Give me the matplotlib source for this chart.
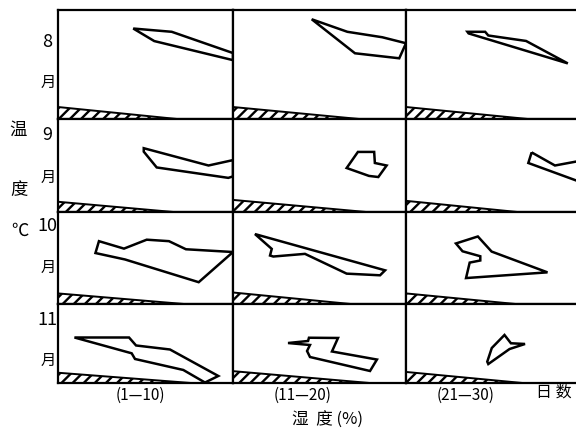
import matplotlib
matplotlib.use("Agg")
import matplotlib.pyplot as plt
from matplotlib.patches import Polygon

plt.rcParams['font.family'] = ['Noto Sans CJK SC', 'DejaVu Sans']
plt.rcParams['hatch.linewidth'] = 1.7

# ---- data (panel units 0-100) ----
months = ['8', '9', '10', '11']
periods = ['(1—10)', '(11—20)', '(21—30)']

aug_p1_x = [43, 65, 100, 100, 55]
aug_p1_y = [83, 80, 60.5, 54, 71.5]
aug_p2_x = [45.5, 66.1, 86.3, 100, 96.1, 70.5]
aug_p2_y = [91.5, 80, 75, 69.5, 55.7, 60.3]
aug_p3_x = [35.3, 45.5, 47.3, 69, 93, 36]
aug_p3_y = [80, 80, 76.6, 71.6, 51, 78.5]

sep_p1_x = [49, 86, 100, 100, 97.3, 56.4, 49]
sep_p1_y = [68.6, 50, 55.8, 38.3, 36.7, 47.9, 64.9]
sep_p2_x = [72.2, 81.6, 82, 88.8, 84, 78.6, 65.7]
sep_p2_y = [64.6, 64.6, 52.7, 50, 37.6, 38.8, 47.3]
sep_p3_x = [72.2, 85.6, 100, 100, 70.3]
sep_p3_y = [64.1, 50, 55, 32.4, 52.7]

oct_p1_x = [23.4, 37.7, 50.7, 63.4, 73.1, 100, 80.4, 38.3, 21.4]
oct_p1_y = [68.3, 60.2, 69.9, 68.3, 59.5, 56.5, 23.7, 48.4, 55.4]
oct_p2_x = [12.7, 87.9, 85, 65.7, 41.6, 23.3, 21.4, 22.4]
oct_p2_y = [76, 36.6, 31.2, 33, 54.5, 51.6, 52.7, 59.9]
oct_p3_x = [28.7, 41.3, 49.2, 81.3, 34.5, 36.6, 42.7, 42.7, 32.5]
oct_p3_y = [65.8, 73.4, 57, 34.4, 28.2, 45, 47.3, 51.9, 57.3]

nov_p1_x = [9.4, 40.6, 44.6, 64, 91.6, 84, 71.6, 44, 42.1]
nov_p1_y = [57.6, 57.6, 47.5, 42.4, 8.9, 0.6, 16.5, 30.4, 37.6]
nov_p2_x = [31.8, 43.4, 43.9, 60.7, 57.2, 83.2, 79.2, 44.5, 42.8, 44.5]
nov_p2_y = [50.6, 53.2, 57.3, 57, 39.9, 29.7, 15.2, 32.9, 40.5, 48.1]
nov_p3_x = [56.6, 60.3, 68.4, 59.5, 47.3, 46.7, 49.3]
nov_p3_y = [60.8, 50.3, 49.4, 43, 24, 27, 44.3]

wedge_h_aug = [11, 11, 11]
wedge_e_aug = [68, 73, 70]
wedge_h_sep = [11, 13, 12]
wedge_e_sep = [66, 77, 64]
wedge_h_oct = [11.5, 12.5, 11.5]
wedge_e_oct = [72, 68, 63]
wedge_h_nov = [13, 15, 14]
wedge_e_nov = [76, 79, 67]

polys = [
    [(aug_p1_x, aug_p1_y), (aug_p2_x, aug_p2_y), (aug_p3_x, aug_p3_y)],
    [(sep_p1_x, sep_p1_y), (sep_p2_x, sep_p2_y), (sep_p3_x, sep_p3_y)],
    [(oct_p1_x, oct_p1_y), (oct_p2_x, oct_p2_y), (oct_p3_x, oct_p3_y)],
    [(nov_p1_x, nov_p1_y), (nov_p2_x, nov_p2_y), (nov_p3_x, nov_p3_y)],
]
wedges = [(wedge_h_aug, wedge_e_aug), (wedge_h_sep, wedge_e_sep),
          (wedge_h_oct, wedge_e_oct), (wedge_h_nov, wedge_e_nov)]

# ---- layout (pixels) ----
W, H = 576, 429
fig = plt.figure(figsize=(W / 100, H / 100), dpi=100)
fig.patch.set_facecolor('white')
col_edges = [58, 233, 406, 580]
row_edges = [10, 119, 212, 304, 383]

for r in range(4):
    for c in range(3):
        x0, x1 = col_edges[c], col_edges[c + 1]
        y0, y1 = row_edges[r], row_edges[r + 1]
        ax = fig.add_axes([x0 / W, 1 - y1 / H, (x1 - x0) / W, (y1 - y0) / H])
        ax.set_xlim(0, 100)
        ax.set_ylim(0, 100)
        ax.set_xticks([])
        ax.set_yticks([])
        for s in ax.spines.values():
            s.set_linewidth(1.6)
            s.set_color('black')
        hs, es = wedges[r]
        wedge = Polygon([(0, 0), (0, hs[c]), (es[c], 0)], closed=True,
                        facecolor='white', edgecolor='black', hatch='///',
                        linewidth=1.4)
        ax.add_patch(wedge)
        px, py = polys[r][c]
        ax.add_patch(Polygon(list(zip(px, py)), closed=True, fill=False,
                             edgecolor='black', linewidth=1.8,
                             joinstyle='miter', clip_on=True))


def ftext(x, y, s, size=12, **kw):
    fig.text(x / W, 1 - y / H, s, ha='center', va='center', fontsize=size, **kw)


num_y = [42, 135, 226, 320]
yue_y = [82, 177, 267, 360]
for m, ny, yy in zip(months, num_y, yue_y):
    ftext(47, ny, m, size=13)
    ftext(48, yy, '月', size=11)

ftext(18, 130, '温', size=12.5)
ftext(19, 190, '度', size=12.5)
ftext(20, 231, '℃', size=12.5)

period_x = [140, 303, 466]
for p, xx in zip(periods, period_x):
    ftext(xx, 395, p, size=11)
ftext(554, 392, '日 数', size=11.5)
ftext(327, 420, '湿  度 (%)', size=12)

fig.savefig('out.png', dpi=100)
